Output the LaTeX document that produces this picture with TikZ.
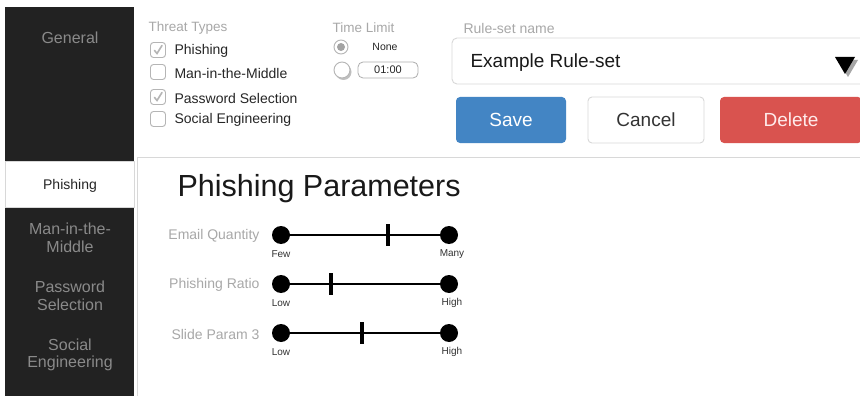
\documentclass[tikz,border=0pt]{standalone}
\usepackage{fontspec}
\setmainfont{Liberation Sans}
\definecolor{sidedark}{HTML}{222222}
\definecolor{sidetext}{HTML}{8A8A8A}
\definecolor{rulegray}{HTML}{D8D8D8}
\definecolor{boxgray}{HTML}{B5B5B5}
\definecolor{labelgray}{HTML}{A8A8A8}
\definecolor{saveblue}{HTML}{4385C4}
\definecolor{deletered}{HTML}{D9534F}
\tikzset{
  sidelabel/.style={text=sidetext, font=\fontsize{16}{17.5}\selectfont, align=center},
  grouplabel/.style={text=labelgray, font=\fontsize{13.5}{14}\selectfont, anchor=west},
  checkbox/.style={draw=boxgray, rounded corners=3pt, line width=0.9pt, minimum width=15pt, minimum height=15pt, inner sep=0pt},
  optlabel/.style={font=\fontsize{14}{15}\selectfont, anchor=west, text=black!85},
  btn/.style={rounded corners=4pt, minimum width=110pt, minimum height=46pt, font=\fontsize{19}{20}\selectfont},
  paramlabel/.style={text=labelgray, font=\fontsize{14}{15}\selectfont, anchor=east},
  knob/.style={circle, fill=black, minimum size=18pt, inner sep=0pt},
  endlabel/.style={font=\fontsize{10}{11}\selectfont, text=black!80},
  thumb/.style={line width=3.5pt},
}
\begin{document}
\begin{tikzpicture}[x=1pt,y=-1pt]
\useasboundingbox (0,0) rectangle (860,396);
\fill[white] (0,0) rectangle (860,396);

% side navigation
\fill[sidedark] (5,7) rectangle (134,396);
\fill[white] (5,161) rectangle (134,207);
\draw[rulegray, line width=0.8pt] (5,161) rectangle (134,207);
\node[sidelabel] (navgeneral) at (70,38) {General};
\node[font=\fontsize{14}{15}\selectfont, text=black!85] (navphish) at (70,186) {Phishing};
\node[sidelabel] (navmitm) at (70,238) {Man-in-the-\\Middle};
\node[sidelabel] (navpass) at (70,296) {Password\\Selection};
\node[sidelabel] (navsocial) at (70,355) {Social\\Engineering};

% content panel outline
\draw[rulegray, line width=0.9pt] (137,396) -- (137,157) -- (860,157);

% threat types
\node[grouplabel] (threatlbl) at (145,28) {Threat Types};
\foreach \y/\lbl/\nm in {50/Phishing/a, 72/Man-in-the-Middle/b, 97/Password Selection/c, 119/Social Engineering/d}{
  \node[checkbox] (cb\nm) at (158,\y) {};
  \node[optlabel] (opt\nm) at (171,\y+1) {\lbl};
}
\foreach \nm in {a,c}{
  \draw[boxgray, line width=1.6pt, line cap=round] ([shift={(-3.5,0.5)}]cb\nm.center) -- ([shift={(-1,3.5)}]cb\nm.center) -- ([shift={(4,-4.5)}]cb\nm.center);
}

% time limit
\node[grouplabel] (timelbl) at (329,28) {Time Limit};
\node[circle, draw=boxgray, line width=0.9pt, minimum size=14pt, inner sep=0pt] (radnone) at (341,47) {};
\fill[boxgray!90!black] (radnone.center) circle (4pt);
\node[font=\fontsize{10.5}{11}\selectfont, text=black!85] (nonelbl) at (385,47) {None};
\fill[black!25] (343.5,72) circle (8pt);
\node[circle, draw=boxgray, fill=white, line width=0.9pt, minimum size=16pt, inner sep=0pt] (radtime) at (342,70) {};
\node[draw=rulegray!80!black, rounded corners=5pt, line width=0.8pt, minimum width=60pt, minimum height=16pt, inner sep=0pt, font=\fontsize{11}{12}\selectfont, text=black!85] (timebox) at (388,70) {01:00};

% rule-set selector
\node[grouplabel, font=\fontsize{14}{15}\selectfont] (rulelbl) at (460,28) {Rule-set name};
\draw[rulegray, line width=0.9pt, rounded corners=5pt] (864,38) -- (452,38) -- (452,84) -- (864,84);
\node[font=\fontsize{19}{20}\selectfont, anchor=west, text=black!90] (rulename) at (467,63) {Example Rule-set};
\fill[black!35] (838,60) -- (858,60) -- (848,77) -- cycle;
\fill[black] (835,57) -- (855,57) -- (845,74) -- cycle;

% action buttons
\node[btn, fill=saveblue, text=white, minimum width=110pt] (save) at (511,120) {\raisebox{-2pt}{Save}};
\node[btn, draw=rulegray, line width=0.9pt, fill=white, text=black!80, minimum width=116pt] (cancel) at (646,120) {\raisebox{-2pt}{Cancel}};
\node[btn, fill=deletered, text=white!92!red, minimum width=142pt] (delete) at (791,120) {\raisebox{-2pt}{Delete}};

% parameters
\node[font=\fontsize{30.5}{32}\selectfont, anchor=west, text=black!90] (title) at (174,189) {Phishing Parameters};

\foreach \y/\lbl/\lo/\hi/\t/\nm in {235/Email Quantity/Few/Many/388/q, 284/Phishing Ratio/Low/High/331/r, 333/Slide Param 3/Low/High/362/s}{
  \node[paramlabel] (lbl\nm) at (263,\y+1) {\lbl};
  \node[knob] (lo\nm) at (281,\y) {};
  \node[knob] (hi\nm) at (449,\y) {};
  \draw[line width=1.3pt] (lo\nm) -- (hi\nm);
  \draw[thumb] (\t,\y-11) -- (\t,\y+11);
  \node[endlabel] (lotxt\nm) at (281,\y+19) {\lo};
  \node[endlabel] (hitxt\nm) at (452,\y+19) {\hi};
}
\end{tikzpicture}
\end{document}
